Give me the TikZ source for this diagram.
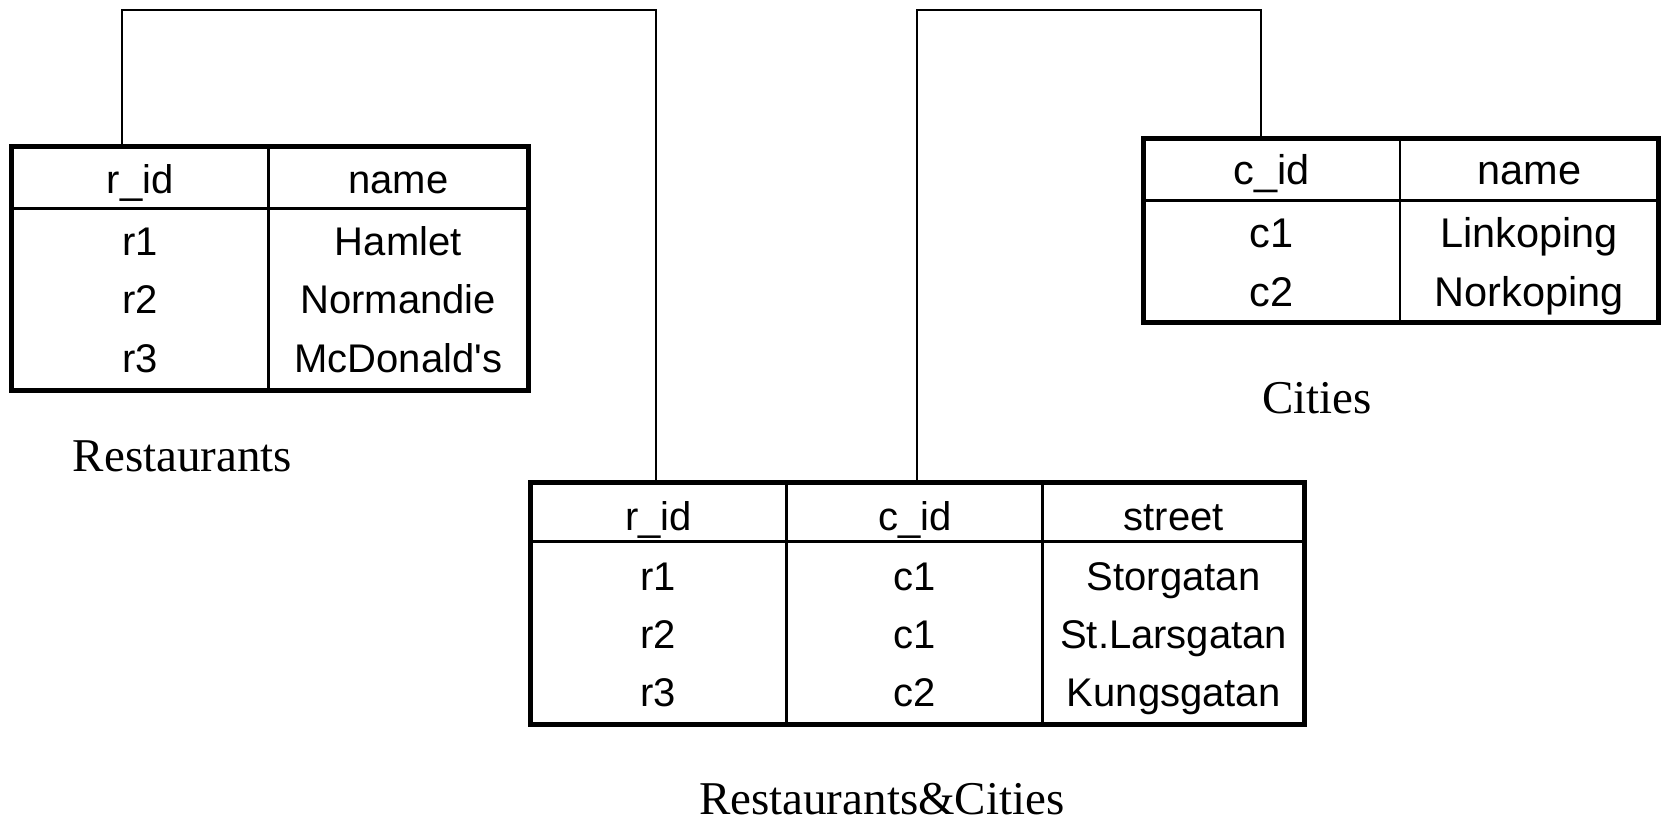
\documentclass[tikz,border=0pt]{standalone}
\usepackage{fontspec}
\newfontfamily\arialf[Ligatures=TeXOff]{Liberation Sans}
\newfontfamily\timesf{Liberation Serif}
\begin{document}
\begin{tikzpicture}[x=1pt,y=-1pt,
  tbl/.style={draw, line width=5pt, rectangle, inner sep=0pt, outer sep=0pt},
  gridline/.style={line width=2.6pt},
  conn/.style={line width=2pt},
  cell/.style={font=\arialf\fontsize{40}{40}\selectfont, anchor=base, inner sep=0pt},
  ccell/.style={font=\arialf\fontsize{41.5}{41.5}\selectfont, anchor=base, inner sep=0pt},
  caption/.style={font=\timesf\fontsize{47}{47}\selectfont, anchor=base, inner sep=0pt}]
\useasboundingbox (0,0) rectangle (1661,817);

% ---------- Restaurants ----------
\node[tbl, minimum width=516.3pt, minimum height=243.8pt] (rest) at (269.85,268.6) {};
\draw[gridline] (11.7,208.3) -- (528,208.3);
\draw[gridline] (268.5,146.7) -- (268.5,390.5);
\node[cell] (rh1) at (140.1,193.5) {r\_id};
\node[cell] (rh2) at (398.25,193.5) {name};
\node[cell] (r11) at (140.1,255) {r1};
\node[cell] (r12) at (398.25,255) {Hamlet};
\node[cell] (r21) at (140.1,313.8) {r2};
\node[cell] (r22) at (398.25,313.8) {Normandie};
\node[cell] (r31) at (140.1,372.5) {r3};
\node[cell] (r32) at (398.25,372.5) {McDonald's};
\node[caption] (restlbl) at (182.5,471.7) {Restaurants};

% ---------- Cities ----------
\node[tbl, minimum width=515.5pt, minimum height=184pt] (city) at (1400.75,230) {};
\draw[gridline] (1143,200.3) -- (1658.5,200.3);
\draw[gridline] (1400,138) -- (1400,322);
\node[ccell] (ch1) at (1271.5,184.3) {c\_id};
\node[ccell] (ch2) at (1529.25,184.3) {name};
\node[ccell] (c11) at (1271.5,247) {c1};
\node[ccell] (c12) at (1529.25,247) {Linkoping};
\node[ccell] (c21) at (1271.5,306) {c2};
\node[ccell] (c22) at (1529.25,306) {Norkoping};
\node[caption] (citylbl) at (1317,413.5) {Cities};

% ---------- Restaurants&Cities ----------
\node[tbl, minimum width=774.5pt, minimum height=241.5pt] (rc) at (917.25,603.25) {};
\draw[gridline] (530,541.7) -- (1304.5,541.7);
\draw[gridline] (786.7,482.5) -- (786.7,724);
\draw[gridline] (1042.7,482.5) -- (1042.7,724);
\node[cell] (xh1) at (658.35,530) {r\_id};
\node[cell] (xh2) at (914.7,530) {c\_id};
\node[cell] (xh3) at (1173.6,530) {street};
\node[cell] (x11) at (658.35,590) {r1};
\node[cell] (x12) at (914.7,590) {c1};
\node[cell] (x13) at (1173.6,590) {Storgatan};
\node[cell] (x21) at (658.35,648) {r2};
\node[cell] (x22) at (914.7,648) {c1};
\node[cell] (x23) at (1173.6,648) {St.Larsgatan};
\node[cell] (x31) at (658.35,706.7) {r3};
\node[cell] (x32) at (914.7,706.7) {c2};
\node[cell] (x33) at (1173.6,706.7) {Kungsgatan};
\node[caption] (rclbl) at (881.8,814) {Restaurants\&Cities};

% ---------- connectors ----------
\coordinate (k1) at (122.3,9.5);
\coordinate (k2) at (656,9.5);
\coordinate (k3) at (917.3,9.5);
\coordinate (k4) at (1261,9.5);
\draw[conn] (rest.north -| k1) -- (k1) -- (k2) -- (rc.north -| k2);
\draw[conn] (rc.north -| k3) -- (k3) -- (k4) -- (city.north -| k4);
\end{tikzpicture}
\end{document}
